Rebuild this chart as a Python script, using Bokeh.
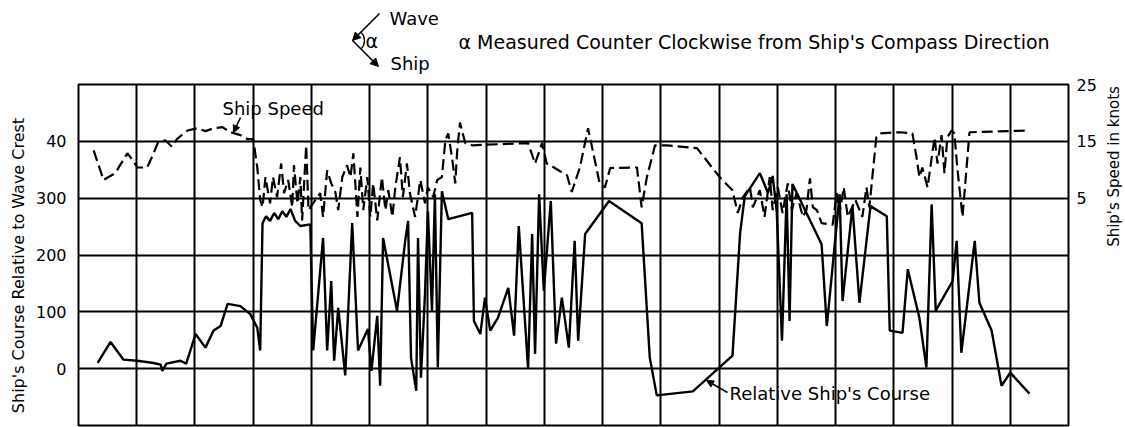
from math import pi
from bokeh.plotting import figure
from bokeh.layouts import column, row
from bokeh.models import Range1d, LinearAxis, FixedTicker, Label, Arrow, NormalHead
from bokeh.embed import file_html
from bokeh.resources import INLINE

# x: position along record, in tenths of a grid column (17 columns)
course_x = [3.3, 5.5, 7.7, 10.1, 12.9, 14.1, 14.4, 15.1, 17.5, 18.5,
            20.1, 21.8, 23.2, 24.4, 25.6, 27.8, 29.5, 30.7, 31.2, 31.6,
            32.2, 32.9, 33.6, 34.3, 35.0, 35.7, 36.4, 37.2, 38.1, 39.8,
            40.3, 42.0, 42.7, 43.4, 43.9, 44.6, 45.8, 47.0, 48.0, 49.7,
            50.3, 51.3, 51.8, 52.3, 54.7, 56.1, 56.6, 57.1, 58.0, 58.3,
            58.8, 59.5, 60.0, 60.7, 61.2, 61.7, 62.4, 63.5, 67.6, 67.9,
            69.0, 69.8, 70.7, 72.0, 73.8, 74.8, 75.6, 77.2, 77.9, 78.4,
            79.1, 79.9, 81.1, 82.0, 83.0, 84.2, 85.2, 85.8, 87.0, 91.1,
            96.7, 98.1, 99.3, 105.5, 112.3, 113.6, 114.4, 117.0, 118.4, 119.2,
            119.9, 120.8, 121.6, 122.1, 122.6, 127.6, 128.5, 130.7, 131.2, 132.9,
            134.1, 136.0, 138.8, 139.3, 141.5, 142.4, 144.4, 145.6, 146.5, 147.2,
            150.1, 150.8, 151.6, 153.9, 154.7, 156.8, 158.5, 160.0, 163.3]
# Relative ship's course (degrees)
course_deg = [10, 47, 16, 14, 10, 7, -4, 9, 14, 9,
              61, 37, 67, 75, 114, 110, 96, 72, 32, 256,
              268, 260, 274, 263, 277, 267, 281, 260, 251, 254,
              32, 230, 32, 154, 14, 107, -12, 256, 32, 70,
              -4, 93, -30, 230, 102, 225, 260, 19, -39, 230,
              -16, 132, 277, 102, 307, 2, 312, 263, 274, 84,
              61, 125, 67, 89, 142, 58, 251, 0, 237, 26,
              307, 137, 295, 44, 125, 37, 225, 49, 237, 295,
              256, 19, -47, -40, 23, 237, 303, 344, 309, 339,
              277, 49, 307, 84, 325, 219, 75, 307, 119, 286,
              116, 286, 268, 67, 63, 175, 89, 2, 289, 102,
              154, 225, 28, 225, 116, 67, -30, -7, -44]

speed_x = [2.6, 4.3, 6.3, 8.4, 9.3, 10.1, 11.8, 12.9, 13.6, 14.9,
           16.0, 17.0, 18.7, 20.4, 21.8, 23.2, 24.7, 26.1, 27.8, 29.0,
           30.0, 30.7, 31.2, 31.6, 32.1, 32.9, 33.4, 34.1, 34.8, 35.3,
           36.0, 36.7, 37.0, 37.6, 38.1, 38.4, 39.1, 39.5, 41.0, 41.5,
           42.0, 42.7, 43.4, 44.1, 44.6, 45.3, 46.1, 46.7, 47.2, 47.9,
           48.4, 48.9, 49.6, 50.1, 50.6, 51.3, 52.1, 52.7, 53.2, 53.9,
           54.4, 55.2, 55.7, 56.4, 56.9, 57.8, 58.7, 59.5, 60.0, 60.9,
           61.6, 62.4, 63.0, 63.5, 64.2, 64.7, 65.0, 65.5, 66.4, 67.6,
           77.2, 78.4, 79.6, 80.4, 81.0, 83.9, 84.7, 86.1, 87.5, 89.5,
           90.4, 91.3, 95.9, 96.7, 97.6, 99.0, 101.0, 106.2, 110.1, 112.3,
           113.2, 114.1, 115.3, 115.8, 117.0, 117.8, 118.7, 119.2, 120.1, 120.9,
           121.8, 122.5, 123.3, 124.4, 125.0, 125.6, 126.1, 126.8, 127.6, 129.5,
           130.2, 130.7, 131.4, 132.1, 133.4, 134.6, 135.3, 135.8, 137.0, 137.6,
           141.0, 143.2, 143.9, 144.4, 144.9, 145.8, 147.0, 147.5, 148.2, 148.7,
           149.2, 149.9, 150.4, 150.9, 151.8, 153.0, 162.8]
# Ship speed (knots)
speed_kn = [13.4, 8.2, 9.4, 12.9, 11.7, 10.4, 10.4, 12.9, 14.7, 15.2,
            14.1, 15.5, 16.9, 17.3, 16.8, 17.3, 17.5, 16.6, 16.1, 15.4,
            15.4, 10.4, 4.7, 3.4, 8.7, 4.1, 8.7, 5.2, 11.1, 5.9,
            8.2, 3.4, 10.8, 4.1, 8.7, 1.1, 14.3, 2.9, 5.2, 5.9,
            1.7, 9.9, 7.6, 6.1, 2.9, 8.7, 10.8, 8.7, 12.9, 1.7,
            10.4, 2.9, 8.7, 1.7, 7.6, 1.1, 8.7, 2.9, 6.4, 1.7,
            6.9, 12.2, 5.2, 11.1, 5.9, 1.7, 8.2, 4.1, 6.9, 5.2,
            8.2, 8.7, 15.2, 16.4, 11.7, 7.6, 12.9, 18.3, 14.7, 14.3,
            14.7, 11.1, 14.7, 11.1, 10.8, 9.0, 6.1, 10.4, 17.3, 7.6,
            6.9, 10.3, 10.4, 3.4, 8.7, 14.3, 14.3, 13.8, 8.7, 6.4,
            2.4, 5.2, 6.9, 3.4, 6.4, 1.7, 8.7, 2.9, 6.9, 2.4,
            7.6, 2.9, 5.9, 1.7, 2.9, 8.5, 3.4, 2.9, 0.6, 0.3,
            5.9, 2.4, 6.9, 1.7, 4.7, 1.7, 6.9, 3.4, 15.7, 16.4,
            16.6, 16.4, 12.2, 8.7, 10.4, 6.9, 15.7, 11.1, 16.1, 9.4,
            15.7, 16.9, 16.4, 10.4, 1.7, 16.6, 16.9]

x_grid = [0, 10, 20, 30, 40, 50, 60, 70, 80, 90, 100, 110, 120, 130, 140, 150, 160, 170]
course_ticks = [0, 100, 200, 300, 400]
course_tick_labels = ["0", "100", "200", "300", "40"]
course_grid = [-100, 0, 100, 200, 300, 400, 500]
speed_ticks = [5, 15, 25]

FONT = "DejaVu Sans"


def blank(w, h, xr=(0, 1), yr=(0, 1)):
    f = figure(width=w, height=h, output_backend="svg", toolbar_location=None,
               x_range=Range1d(*xr), y_range=Range1d(*yr),
               min_border=0, outline_line_color=None,
               background_fill_color="white", border_fill_color="white")
    f.axis.visible = False
    f.grid.visible = False
    return f


def lab(fig, text, sx, sy, size="17px", align="left", angle=0.0, units="screen"):
    fig.add_layout(Label(x=sx, y=sy, x_units=units, y_units=units, text=text,
                         text_font=FONT, text_font_size=size, text_color="black",
                         text_align=align, text_baseline="middle", angle=angle))


def arr(fig, x0, y0, x1, y1, size=7, width=1.6, units="screen"):
    fig.add_layout(Arrow(x_start=x0, y_start=y0, x_end=x1, y_end=y1,
                         start_units=units, end_units=units,
                         line_color="black", line_width=width,
                         end=NormalHead(size=size, fill_color="black", line_color="black")))


def style_axis(ax, standoff):
    ax.axis_line_color = None
    ax.major_tick_line_color = None
    ax.minor_tick_line_color = None
    ax.major_tick_out = 0
    ax.major_tick_in = 0
    ax.minor_tick_out = 0
    ax.minor_tick_in = 0
    ax.major_label_standoff = standoff
    ax.major_label_text_font = FONT
    ax.major_label_text_font_size = "16px"
    ax.major_label_text_color = "black"


# ---------------- main chart ----------------
p = figure(width=1067, height=353, output_backend="svg", toolbar_location=None,
           x_range=Range1d(0, 170), y_range=Range1d(-100, 500),
           min_border_left=46, min_border_right=30, min_border_top=10, min_border_bottom=2,
           background_fill_color="white", border_fill_color="white")
p.extra_y_ranges = {"speed": Range1d(-35, 25)}

p.outline_line_color = "black"
p.outline_line_width = 2
p.xaxis.visible = False
p.xgrid.ticker = FixedTicker(ticks=x_grid)
p.ygrid.ticker = FixedTicker(ticks=course_grid)
for g in (p.xgrid, p.ygrid):
    g.grid_line_color = "black"
    g.grid_line_width = 2
    g.grid_line_alpha = 1.0

ya = p.yaxis[0]
ya.ticker = FixedTicker(ticks=course_ticks)
ya.major_label_overrides = {t: s for t, s in zip(course_ticks, course_tick_labels)}
style_axis(ya, 12)

ra = LinearAxis(y_range_name="speed", ticker=FixedTicker(ticks=speed_ticks))
style_axis(ra, 8)
p.add_layout(ra, "right")

p.line(course_x, course_deg, line_color="black", line_width=2.4)
p.line(speed_x, speed_kn, y_range_name="speed", line_color="black", line_width=2.2,
       line_dash="11 5")

# in-plot annotations (screen px from the frame's bottom-left)
lab(p, "Ship Speed", 144, 317, size="18px")
lab(p, "Relative Ship's Course", 651, 32, size="18px")
arr(p, 162, 308, 155, 293)
arr(p, 649, 33, 628, 45)

# ---------------- side panels with axis titles ----------------
left = blank(32, 353)
lab(left, "Ship's Course Relative to Wave Crest", 18, 160, size="16px",
    align="center", angle=pi / 2)

side = blank(26, 353)
lab(side, "Ship's Speed in knots", 14, 259, size="15px", align="center", angle=pi / 2)

# ---------------- header with the angle sketch ----------------
head = blank(1125, 74, xr=(0, 1125), yr=(0, 74))
lab(head, "Wave", 389, 56, size="18px")
lab(head, "Ship", 390, 11, size="18px")
lab(head, "α", 365, 34, size="19px")
lab(head, "α Measured Counter Clockwise from Ship's Compass Direction", 458, 33, size="19px")
arr(head, 379, 61, 352, 34, size=8)
arr(head, 352, 34, 378, 8, size=8)
head.arc(x=[352], y=[34], radius=12, start_angle=-0.75, end_angle=0.75,
         line_color="black", line_width=1.3)

layout = column(head, row(left, p, side))
open("out.html", "w").write(file_html(layout, INLINE))
